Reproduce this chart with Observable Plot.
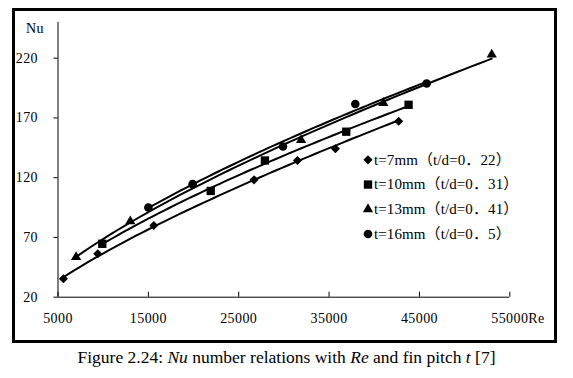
<!DOCTYPE html>
<html>
<head>
<meta charset="utf-8">
<script src="https://cdn.jsdelivr.net/npm/d3@7"></script>
<script src="https://cdn.jsdelivr.net/npm/@observablehq/plot@0.6"></script>
<style>
  html, body { margin: 0; padding: 0; background: #fff; }
  #page { position: relative; width: 573px; height: 378px; overflow: hidden; }
  #chart { position: absolute; left: 0; top: 0; }
  #frame { position: absolute; left: 12px; top: 8px; width: 545px; height: 335px; box-sizing: border-box; border: 3px solid #000; pointer-events: none; }
  #caption { position: absolute; left: 0; top: 349px; width: 573px; text-align: center; font-family: "Liberation Serif", serif; font-size: 17.5px; line-height: 17px; color: #000; }
  .legend-text { letter-spacing: 0.1px; }
</style>
</head>
<body>
<div id="page">
  <div id="chart"></div>
  <div id="frame"></div>
  <div id="caption">Figure 2.24: <i>Nu</i> number relations with <i>Re</i> and fin pitch <i>t</i> [7]</div>
</div>
<script>
// ---- data ----
const xTicks = [5000, 15000, 25000, 35000, 45000, 55000];
const yTicks = [20, 70, 120, 170, 220];

const seriesNames = ["t=7mm（t/d=0．22）", "t=10mm（t/d=0．31）", "t=13mm（t/d=0．41）", "t=16mm（t/d=0．5）"];

const re7  = [5600, 9400, 15600, 26700, 31500, 35700, 42700];
const nu7  = [35.4, 56.3, 80.0, 118.2, 134.4, 144.2, 167.3];
const re10 = [9900, 21900, 27900, 36900, 43800];
const nu10 = [64.7, 108.9, 134.4, 158.5, 181.0];
const re13 = [7000, 13000, 31900, 41000, 53000];
const nu13 = [53.5, 83.5, 151.5, 182.5, 223.0];
const re16 = [15000, 19900, 29900, 37900, 45800];
const nu16 = [95.1, 114.6, 146.1, 181.7, 198.8];

// ---- build tables ----
const symbols = [d3.symbolDiamond2, d3.symbolSquare, d3.symbolTriangle, d3.symbolCircle];
const radii = [4.1, 4.7, 3.8, 4.3];
const raw = [[re7, nu7], [re10, nu10], [re13, nu13], [re16, nu16]];

const series = raw.map(([re, nu], i) => ({
  name: seriesNames[i],
  points: re.map((r, j) => ({Re: r, Nu: nu[j]})),
  symbol: symbols[i],
  r: radii[i]
}));

// power-law trend line (Excel-style "power" fit) computed from each series' points
function powerTrend(points) {
  const lx = points.map(p => Math.log(p.Re)), ly = points.map(p => Math.log(p.Nu));
  const mx = d3.mean(lx), my = d3.mean(ly);
  const b = d3.sum(lx, (v, k) => (v - mx) * (ly[k] - my)) / d3.sum(lx, v => (v - mx) ** 2);
  const a = Math.exp(my - b * mx);
  const [x0, x1] = d3.extent(points, p => p.Re);
  const n = 60;
  return d3.range(n + 1).map(k => {
    const x = x0 + (x1 - x0) * k / n;
    return {Re: x, Nu: a * Math.pow(x, b)};
  });
}

const W = 573, H = 343;
const mL = 57.5, mR = 63.7, mT = 21.85, mB = 46.3;
const plotH = H - mT - mB;

const marks = [
  Plot.ruleY([20], {stroke: "#000", strokeWidth: 1}),
  Plot.ruleX([5000], {stroke: "#000", strokeWidth: 1}),
  Plot.axisY(yTicks, {tickSize: 4, tickPadding: 16, label: null, tickFormat: d => String(d), stroke: "#000"}),
  Plot.axisX(xTicks, {tickSize: 0, tickPadding: 16, label: null, tickFormat: d => String(d)}),
  Plot.tickX(xTicks, {x: d => d, insetTop: plotH - 5, stroke: "#000", strokeWidth: 1})
];

series.forEach(s => {
  marks.push(Plot.line(powerTrend(s.points), {x: "Re", y: "Nu", stroke: "#000", strokeWidth: 2}));
});
series.forEach(s => {
  marks.push(Plot.dot(s.points, {x: "Re", y: "Nu", symbol: s.symbol, r: s.r, fill: "#000", stroke: "none"}));
});

// legend inside the plot area
series.forEach((s, i) => {
  const dy = 137.5 + i * 24.7;
  marks.push(Plot.dot([s.name], {frameAnchor: "top-left", dx: 310, dy, symbol: s.symbol, r: s.r, fill: "#000", stroke: "none"}));
  marks.push(Plot.text([s.name], {frameAnchor: "top-left", dx: 316, dy, text: d => d, textAnchor: "start", lineAnchor: "middle", fontSize: 15, fill: "#000", className: "legend-text"}));
});

// axis titles
marks.push(Plot.text(["Nu"], {frameAnchor: "top-left", dx: -23, dy: 6.2, text: d => d, textAnchor: "middle", lineAnchor: "middle", fontSize: 14, fill: "#000"}));
marks.push(Plot.text(["Re"], {frameAnchor: "bottom-right", dx: 18.5, dy: 21.8, text: d => d, textAnchor: "start", lineAnchor: "middle", fontSize: 14, fill: "#000"}));

const chart = Plot.plot({
  width: W, height: H,
  marginLeft: mL, marginRight: mR, marginTop: mT, marginBottom: mB,
  x: {domain: [5000, 55000]},
  y: {domain: [20, 250]},
  style: {fontFamily: '"Liberation Serif", "Noto Sans CJK SC", serif', fontSize: "14px", color: "#000", background: "transparent", letterSpacing: "0.4px", overflow: "visible"},
  marks
});
document.getElementById("chart").appendChild(chart);
</script>
</body>
</html>
